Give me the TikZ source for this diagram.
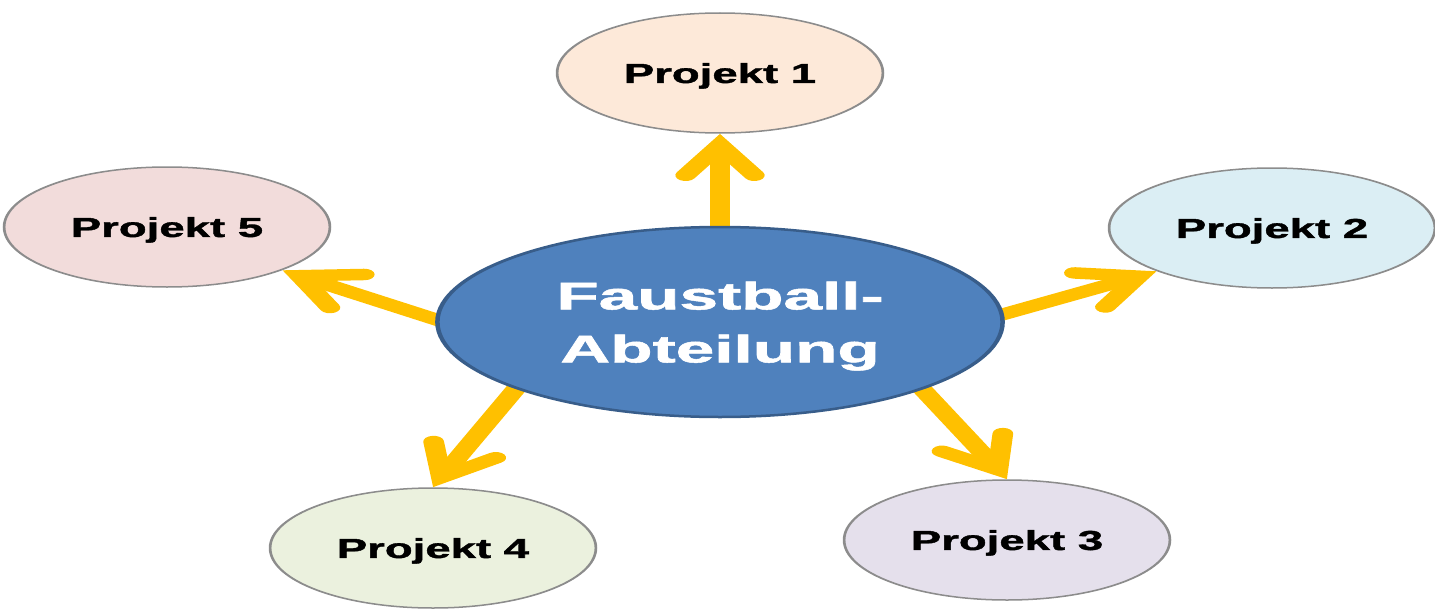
\documentclass[tikz,border=0pt]{standalone}
\usepackage{fontspec}
\setmainfont{Liberation Sans}[BoldFeatures={FakeBold=1.2}]
\usetikzlibrary{shapes.geometric,calc}
\pgfdeclarelayer{background}
\pgfsetlayers{background,main}
\definecolor{arrowgold}{HTML}{FFC000}
\definecolor{hubfill}{HTML}{4F81BD}
\definecolor{hubborder}{HTML}{385D8A}
\definecolor{bordergray}{HTML}{8C8C8C}
\definecolor{fillA}{HTML}{FDE9D9}
\definecolor{fillB}{HTML}{DBEEF4}
\definecolor{fillC}{HTML}{E5E0EC}
\definecolor{fillD}{HTML}{EBF1DE}
\definecolor{fillE}{HTML}{F2DCDB}
\newcommand\ptext[1]{\scalebox{0.92}[1]{#1}}
\tikzset{
  proj/.style={ellipse, draw=bordergray, line width=1.5pt, minimum width=181pt,
    minimum height=120pt, inner sep=0pt, text depth=0pt,
    font=\bfseries\fontsize{27.5}{32}\selectfont},
  hub/.style={ellipse, draw=hubborder, fill=hubfill, line width=2.5pt,
    minimum width=314pt, minimum height=190pt, inner sep=0pt, align=center,
    text=white, text depth=0pt, font=\bfseries\fontsize{38.5}{53}\selectfont},
  shaftline/.style={draw=arrowgold, line width=11.5pt, line cap=butt},
  headline/.style={draw=arrowgold, line width=11.5pt, line cap=round, line join=miter},
  wide/.style={transform canvas={xscale=1.8}}
}
\newcommand\yarrow[3]{%
  \coordinate (#3v) at ($(#2)!11pt!(#1)$);
  \coordinate (#3a) at ($(#3v)!36pt!32:(#1)$);
  \coordinate (#3b) at ($(#3v)!36pt!-32:(#1)$);
  \draw[shaftline] (#1) -- (#3v);
  \draw[headline] (#3a) -- (#3v) -- (#3b);}
\begin{document}
\begin{tikzpicture}[x=1pt,y=-1pt]
\useasboundingbox (0,0) rectangle (1435,610);
\begin{scope}[wide, x={(0.555556pt,0pt)}, y={(0pt,-1pt)}]
  \node[hub] (c) at (720,322) {Faustball-\\Abteilung};
  \node[proj, fill=fillA] (p1) at (720,73) {\ptext{Projekt 1}};
  \node[proj, fill=fillB] (p2) at (1272,228) {\ptext{Projekt 2}};
  \node[proj, fill=fillC] (p3) at (1007,540) {\ptext{Projekt 3}};
  \node[proj, fill=fillD] (p4) at (433,548) {\ptext{Projekt 4}};
  \node[proj, fill=fillE] (p5) at (167,227) {\ptext{Projekt 5}};
  \coordinate (s1) at (720,240);
  \coordinate (s2) at (990,318);
  \coordinate (s3) at (910,376);
  \coordinate (s4) at (525,378);
  \coordinate (s5) at (450,324);
\end{scope}
\begin{pgfonlayer}{background}
\begin{scope}[wide]
  \yarrow{s1}{p1.south}{h1}
  \yarrow{s2}{p2.214}{h2}
  \yarrow{s3}{p3.north}{h3}
  \yarrow{s4}{p4.north}{h4}
  \yarrow{s5}{p5.-34}{h5}
\end{scope}
\end{pgfonlayer}
\end{tikzpicture}
\end{document}
